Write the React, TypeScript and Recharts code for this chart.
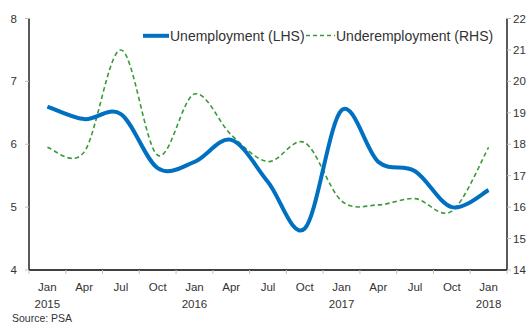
import React from 'react';
import { LineChart, Line, XAxis, YAxis, Legend } from 'recharts';

const months = ['Jan', 'Apr', 'Jul', 'Oct', 'Jan', 'Apr', 'Jul', 'Oct', 'Jan', 'Apr', 'Jul', 'Oct', 'Jan'];
const years = ['2015', '2015', '2015', '2015', '2016', '2016', '2016', '2016', '2017', '2017', '2017', '2017', '2018'];
const unemployment = [6.6, 6.4, 6.48, 5.62, 5.72, 6.07, 5.4, 4.66, 6.54, 5.72, 5.57, 5.0, 5.27];
const underemployment = [17.9, 17.75, 21.0, 17.65, 19.6, 18.3, 17.45, 18.05, 16.2, 16.07, 16.27, 15.87, 17.9];
const leftTicks = [4, 5, 6, 7, 8];
const rightTicks = [14, 15, 16, 17, 18, 19, 20, 21, 22];
const seriesNames = ['Unemployment (LHS)', 'Underemployment (RHS)'];
const sourceText = 'Source: PSA';

const data = months.map((m, i) => ({
  label: `${m} ${years[i]}`,
  unemployment: unemployment[i],
  underemployment: underemployment[i],
}));

const W = 531;
const H = 324;
const PLOT_LEFT = 29;
const PLOT_RIGHT = 507;
const BAND = (PLOT_RIGHT - PLOT_LEFT) / months.length;
const FONT = '"Liberation Sans", Arial, sans-serif';
const BLUE = '#0070C0';
const GREEN = '#3A9A3A';
const TEXT = '#333333';

// Excel-like smoothed line (Catmull-Rom through the points)
const excelSmooth = (context: any) => {
  let pts: number[][] = [];
  return {
    areaStart() {},
    areaEnd() {},
    lineStart() {
      pts = [];
    },
    point(x: number, y: number) {
      pts.push([+x, +y]);
    },
    lineEnd() {
      const n = pts.length;
      if (!n) return;
      context.moveTo(pts[0][0], pts[0][1]);
      for (let i = 0; i < n - 1; i++) {
        const p0 = pts[i - 1] || pts[i];
        const p1 = pts[i];
        const p2 = pts[i + 1];
        const p3 = pts[i + 2] || p2;
        context.bezierCurveTo(
          p1[0] + (p2[0] - p0[0]) / 6,
          p1[1] + (p2[1] - p0[1]) / 6,
          p2[0] - (p3[0] - p1[0]) / 6,
          p2[1] - (p3[1] - p1[1]) / 6,
          p2[0],
          p2[1]
        );
      }
    },
  };
};

const XTick = (props: any) => {
  const { x, y, payload } = props;
  const value = String(payload.value);
  const [m, yr] = value.split(' ');
  const idx = data.findIndex((d) => d.label === value);
  const isLast = idx === data.length - 1;
  return (
    <g>
      <line x1={x - BAND / 2} x2={x - BAND / 2} y1={y} y2={y + 4} stroke="#bfbfbf" strokeWidth={1} />
      {isLast && <line x1={x + BAND / 2} x2={x + BAND / 2} y1={y} y2={y + 4} stroke="#bfbfbf" strokeWidth={1} />}
      <text x={x} y={y + 20.5} textAnchor="middle" fontSize={11.5} fill={TEXT} fontFamily={FONT}>
        {m}
      </text>
      {m === 'Jan' && (
        <text x={x} y={y + 37.5} textAnchor="middle" fontSize={11.5} fill={TEXT} fontFamily={FONT}>
          {yr}
        </text>
      )}
    </g>
  );
};

const renderLegend = () => (
  <svg width={W} height={50} style={{ display: 'block' }}>
    <line x1={143} x2={169} y1={35.8} y2={35.8} stroke={BLUE} strokeWidth={4} />
    <text x={170} y={41} fontSize={14} fill={TEXT} fontFamily={FONT}>
      {seriesNames[0]}
    </text>
    <line x1={306} x2={335} y1={35.5} y2={35.5} stroke={GREEN} strokeWidth={1.5} strokeDasharray="4 3" />
    <text x={336} y={41} fontSize={14} fill={TEXT} fontFamily={FONT}>
      {seriesNames[1]}
    </text>
  </svg>
);

export default function App() {
  return (
    <div style={{ position: 'absolute', left: 0, top: 0, width: W, height: H, background: '#fff' }}>
      <LineChart width={W} height={H} data={data} margin={{ top: 18.5, right: 0, bottom: 18, left: 0 }}>
        <XAxis
          dataKey="label"
          interval={0}
          height={36}
          padding={{ left: BAND / 2, right: BAND / 2 }}
          tickSize={0}
          tickMargin={0}
          tickLine={false}
          axisLine={{ stroke: '#000', strokeWidth: 1.3 }}
          tick={<XTick />}
        />
        <YAxis
          yAxisId="left"
          orientation="left"
          width={PLOT_LEFT}
          domain={[4, 8]}
          ticks={leftTicks}
          interval={0}
          tickSize={4}
          tickMargin={8}
          tickLine={{ stroke: '#bfbfbf' }}
          axisLine={{ stroke: '#000', strokeWidth: 1.3 }}
          tick={{ fontSize: 11.5, fill: TEXT, fontFamily: FONT }}
        />
        <YAxis
          yAxisId="right"
          orientation="right"
          width={W - PLOT_RIGHT}
          domain={[14, 22]}
          ticks={rightTicks}
          interval={0}
          tickSize={4}
          tickMargin={2}
          tickLine={{ stroke: '#bfbfbf' }}
          axisLine={{ stroke: '#000', strokeWidth: 1.3 }}
          tick={{ fontSize: 11.5, fill: TEXT, fontFamily: FONT, textAnchor: 'start' }}
        />
        <Legend
          verticalAlign="middle"
          align="center"
          layout="horizontal"
          wrapperStyle={{ top: 0, left: 0, width: W, height: 50 }}
          content={renderLegend}
        />
        <Line
          yAxisId="right"
          dataKey="underemployment"
          name={seriesNames[1]}
          type={excelSmooth as any}
          stroke={GREEN}
          strokeWidth={1.6}
          strokeDasharray="4.5 3"
          dot={false}
          activeDot={false}
          isAnimationActive={false}
        />
        <Line
          yAxisId="left"
          dataKey="unemployment"
          name={seriesNames[0]}
          type={excelSmooth as any}
          stroke={BLUE}
          strokeWidth={4}
          dot={false}
          activeDot={false}
          isAnimationActive={false}
        />
      </LineChart>
      <div
        style={{
          position: 'absolute',
          left: 12,
          top: 312,
          fontSize: 10.5,
          lineHeight: '12px',
          color: TEXT,
          fontFamily: FONT,
          whiteSpace: 'nowrap',
        }}
      >
        {sourceText}
      </div>
    </div>
  );
}
